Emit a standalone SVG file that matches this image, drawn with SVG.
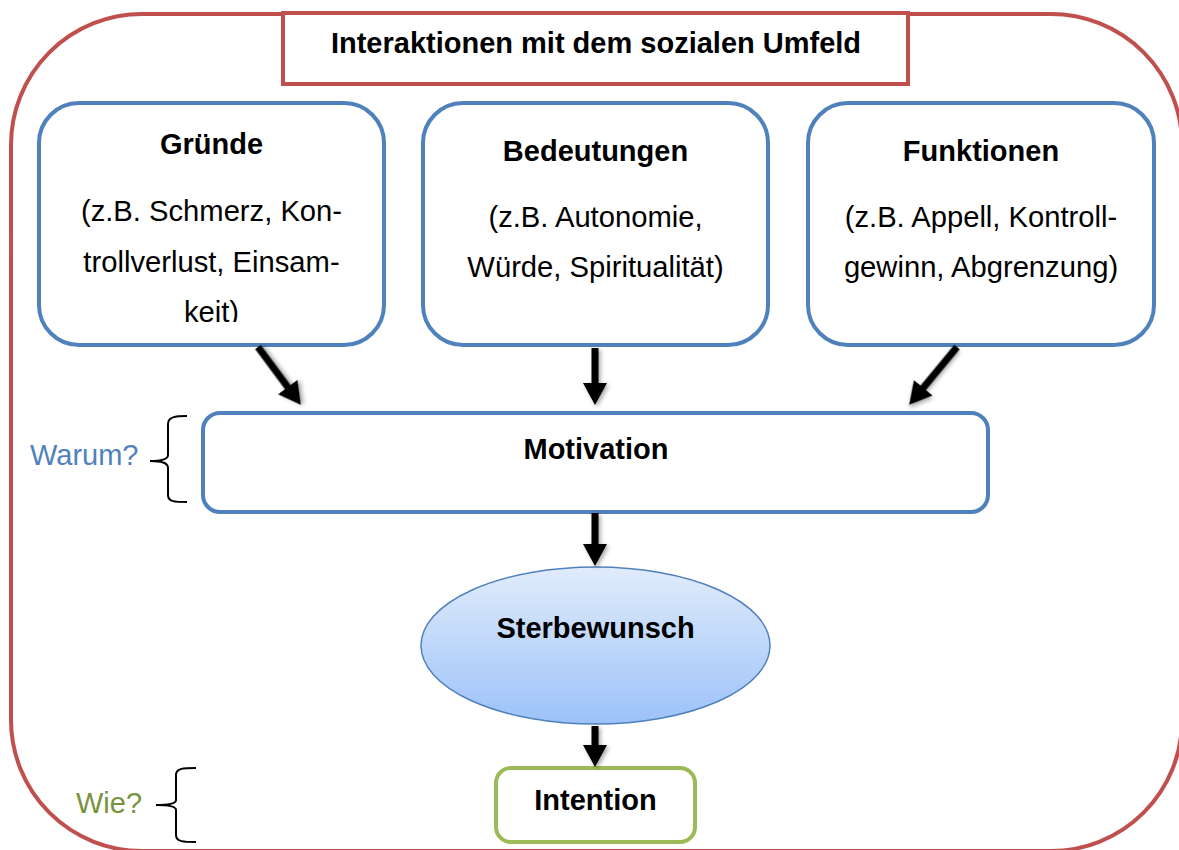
<svg xmlns="http://www.w3.org/2000/svg" width="1179" height="850" viewBox="0 0 1179 850">
<style>
.b{font-family:"Liberation Sans",Arial,sans-serif;font-weight:bold;font-size:29px;fill:#000;text-anchor:middle}
.r{font-family:"Liberation Sans",Arial,sans-serif;font-size:29.2px;fill:#000;text-anchor:middle}
.box{fill:#fff;stroke:#4F81BD;stroke-width:4}
.red{fill:none;stroke:#C0504D;stroke-width:4}
.brace{fill:none;stroke:#000;stroke-width:2}
.arr{fill:#000;filter:url(#sh)}
</style>
<defs>
<linearGradient id="g" x1="0" y1="0" x2="0" y2="1">
<stop offset="0" stop-color="#E1ECFB"/>
<stop offset="1" stop-color="#9CC2F9"/>
</linearGradient>
<filter id="sh" x="-50%" y="-50%" width="200%" height="200%">
<feDropShadow dx="2" dy="2" stdDeviation="2" flood-color="#000" flood-opacity="0.35"/>
</filter>
<clipPath id="cg"><rect x="39" y="103" width="345" height="219"/></clipPath>
</defs>
<rect class="red" x="11" y="14" width="1171" height="837" rx="131" ry="131"/>
<g id="title">
<rect class="red" x="283" y="13" width="625" height="71" style="fill:#fff"/>
<text class="b" x="596" y="53">Interaktionen mit dem sozialen Umfeld</text>
</g>
<g id="gruende">
<rect class="box" x="39" y="103" width="345" height="242" rx="40"/>
<text class="b" x="211.5" y="154">Gründe</text>
<g clip-path="url(#cg)">
<text class="r" x="211.5" y="221">(z.B. Schmerz, Kon-</text>
<text class="r" x="211.5" y="271.5">trollverlust, Einsam-</text>
<text class="r" x="211.5" y="322">keit)</text>
</g>
</g>
<g id="bedeutungen">
<rect class="box" x="423" y="103" width="345" height="242" rx="40"/>
<text class="b" x="595.5" y="161">Bedeutungen</text>
<text class="r" x="595.5" y="227">(z.B. Autonomie,</text>
<text class="r" x="595.5" y="277">Würde, Spiritualität)</text>
</g>
<g id="funktionen">
<rect class="box" x="808" y="103" width="346" height="242" rx="40"/>
<text class="b" x="981" y="161">Funktionen</text>
<text class="r" x="981" y="227">(z.B. Appell, Kontroll-</text>
<text class="r" x="981" y="277">gewinn, Abgrenzung)</text>
</g>
<g id="motivation">
<rect class="box" x="203" y="413" width="785" height="99" rx="17"/>
<text class="b" x="596" y="459">Motivation</text>
</g>
<g id="warum">
<text x="30" y="465" style="font-family:'Liberation Sans',Arial,sans-serif;font-size:29px;fill:#4F81BD">Warum?</text>
<path class="brace" d="M187,416 C175,416 168,417 168,424 L168,455 C168,459 163,461 150,461 C163,461 168,463 168,468 L168,495 C168,502 175,502 187,502"/>
</g>
<g id="sterbewunsch">
<ellipse cx="595.5" cy="645.5" rx="174.5" ry="78.5" fill="url(#g)" stroke="#4F81BD" stroke-width="1.5"/>
<text class="b" x="595.5" y="638">Sterbewunsch</text>
</g>
<g id="intention">
<rect x="496" y="768" width="199" height="74" rx="15" fill="#fff" stroke="#9BBB59" stroke-width="4"/>
<text class="b" x="595.5" y="810">Intention</text>
</g>
<g id="wie">
<text x="76" y="813" style="font-family:'Liberation Sans',Arial,sans-serif;font-size:29px;fill:#77933C">Wie?</text>
<path class="brace" d="M196,768 C184,768 176,768 176,775 L176,800 C176,803 172,805 156,805 C172,805 176,807 176,810 L176,835 C176,842 184,842 196,842"/>
</g>
<g id="connectors">
<polygon class="arr" transform="translate(258,347) rotate(-36.55)" points="-3.5,0 3.5,0 3.5,50 12,50 0,72 -12,50 -3.5,50"/>
<polygon class="arr" transform="translate(595,348)" points="-3.5,0 3.5,0 3.5,35 12,35 0,57 -12,35 -3.5,35"/>
<polygon class="arr" transform="translate(957,347) rotate(39.6)" points="-3.5,0 3.5,0 3.5,53 12,53 0,75 -12,53 -3.5,53"/>
<polygon class="arr" transform="translate(595,513)" points="-3.5,0 3.5,0 3.5,31 12,31 0,53 -12,31 -3.5,31"/>
<polygon class="arr" transform="translate(595,726)" points="-3.5,0 3.5,0 3.5,19 12,19 0,41 -12,19 -3.5,19"/>
</g>
</svg>
